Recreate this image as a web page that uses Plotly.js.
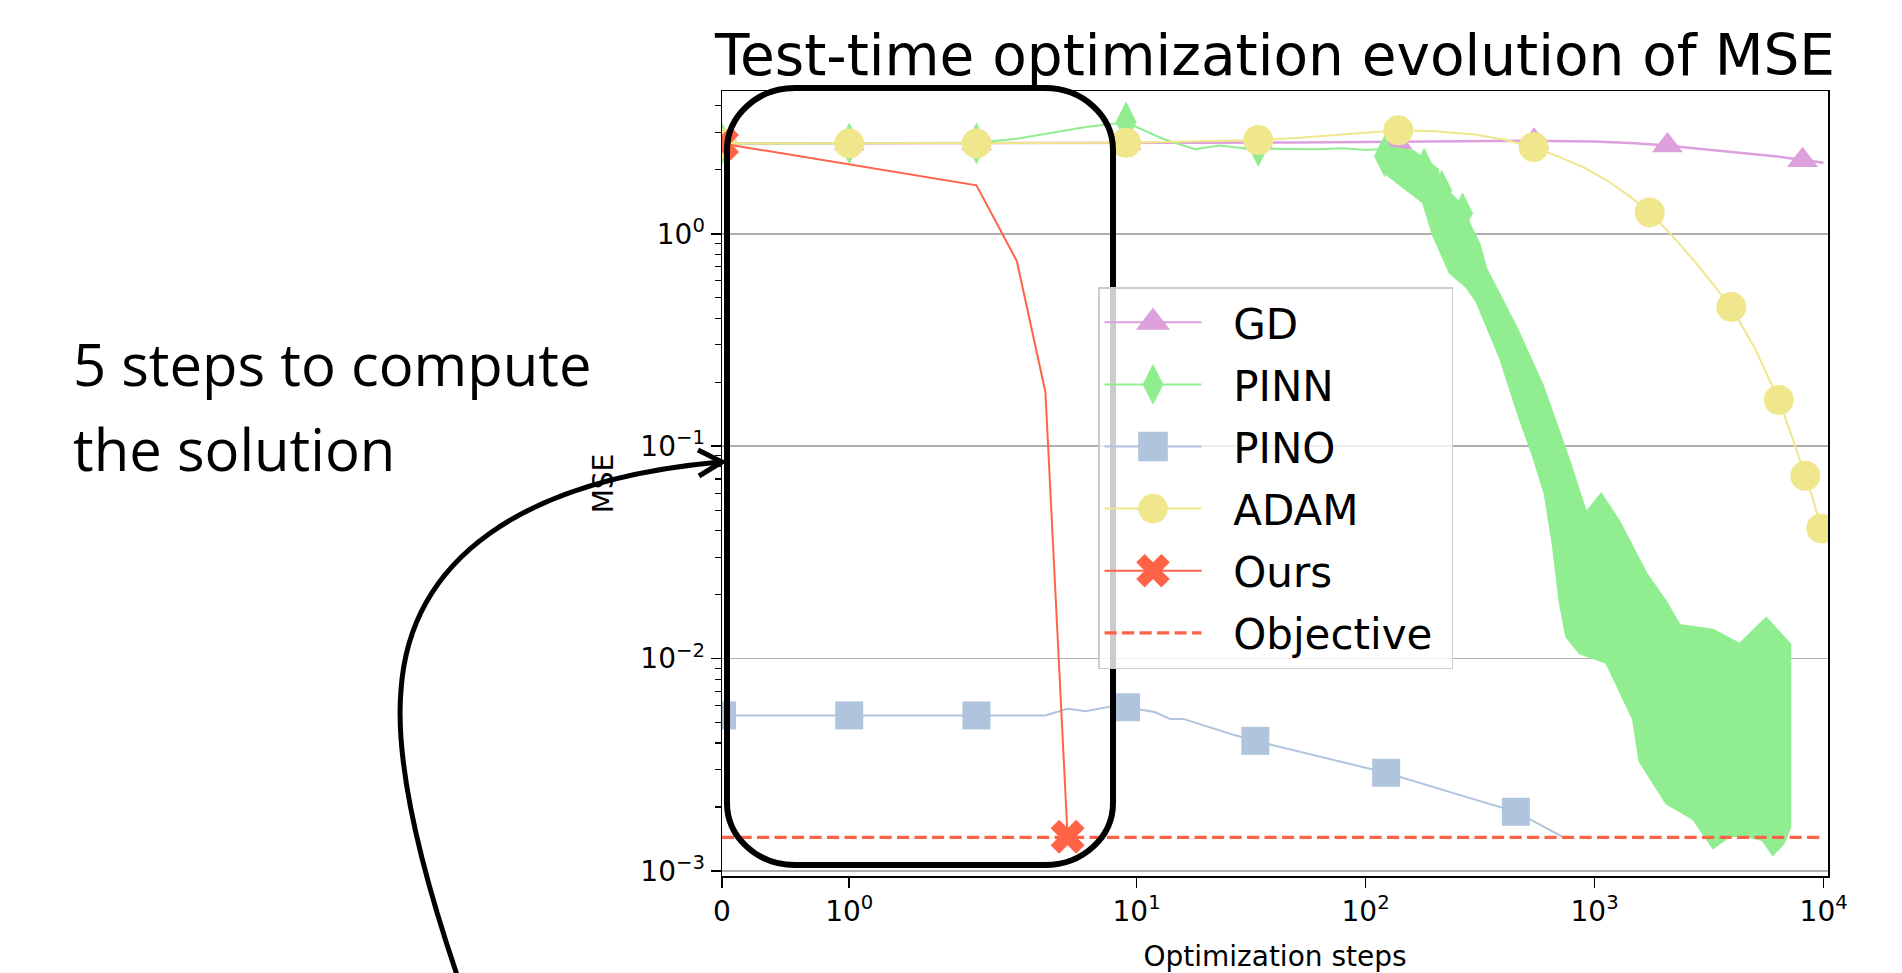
<!DOCTYPE html>
<html>
<head>
<meta charset="utf-8">
<script src="https://cdn.plot.ly/plotly-3.0.1.min.js"></script>
<style>
html,body{margin:0;padding:0;background:#ffffff;}
#chart{width:1902px;height:973px;}
</style>
</head>
<body>
<div id="chart"></div>
<script>
// ---------------- data (optimization step, MSE) ----------------
const gdSteps = [0,1,2,5,10,20,50,100,200,500,1000,1500,2000,3000,4000,5000,6500,8000,10000];
const gdMSE   = [2.66,2.66,2.66,2.66,2.67,2.68,2.69,2.70,2.72,2.74,2.72,2.67,2.61,2.50,2.44,2.38,2.30,2.23,2.16];
const gdMarkSteps = [0,1,2,9,34,137,544,2080,8090];
const gdMarkMSE   = [2.66,2.66,2.66,2.67,2.69,2.70,2.74,2.60,2.22];

const pinnSteps = [0,1,2,3,4,6,9,13,18,23,30,45,60,80,100,115];
const pinnMSE   = [2.66,2.66,2.68,2.80,2.95,3.18,3.35,2.80,2.50,2.60,2.52,2.52,2.50,2.53,2.48,2.50];
const pinnMarkSteps = [0,1,2,9,34,121,180,215,265];
const pinnMarkMSE   = [2.66,2.66,2.66,3.35,2.59,2.32,2.03,1.60,1.25];
// outline of the densely oscillating part of the PINN curve
const pinnBandSteps = [115,161,207,211,257,315,336,455,595,777,919,1069,1285,1682,2055,2350,3288,4295,5616,7150,
                       7150,6700,6000,5400,4500,3900,3288,2700,2055,1571,1470,1124,861,752,703,657,605,538,470,385,304,275,233,197,178,123,115];
const pinnBandMSE   = [2.59,2.46,2.01,1.72,1.405,0.889,0.689,0.3645,0.193,0.0854,0.0488,0.0598,0.0441,0.0252,0.01853,0.01439,0.01366,0.01172,0.01552,0.0117,
                       0.0016,0.00135,0.00119,0.0014,0.00146,0.00146,0.00128,0.00175,0.00208,0.00328,0.00519,0.00956,0.01059,0.01265,0.01855,0.0342,0.0598,0.0899,0.135,0.262,0.4825,0.562,0.655,0.984,1.405,1.908,2.22];

const pinoSteps = [0,1,2,4,5,6,8,9,12,14,16,26,33,60,123,250,453,750];
const pinoMSE   = [0.0054,0.0054,0.0054,0.0054,0.0058,0.00565,0.0060,0.0059,0.0056,0.0052,0.0052,0.0044,0.0041,0.0035,0.0029,0.0023,0.0019,0.00142];
const pinoMarkSteps = [0,1,2,9,33,123,453];
const pinoMarkMSE   = [0.0054,0.0054,0.0054,0.0059,0.0041,0.0029,0.0019];

const adamSteps = [0,1,2,5,9,15,25,34,50,75,100,139,200,300,400,542,700,900,1125,1400,1740,2200,2800,3950,5000,6370,7400,8320,9000,9770,10000];
const adamMSE   = [2.66,2.66,2.66,2.66,2.68,2.71,2.74,2.76,2.82,2.92,3.00,3.07,3.04,2.93,2.78,2.56,2.30,2.05,1.79,1.52,1.26,0.97,0.72,0.452,0.29,0.165,0.105,0.0725,0.056,0.041,0.038];
const adamMarkSteps = [0,1,2,9,34,139,542,1740,3950,6370,8320,9770];
const adamMarkMSE   = [2.66,2.66,2.66,2.68,2.76,3.07,2.56,1.26,0.452,0.165,0.0725,0.041];

const oursSteps = [0,1,2,3,4,5];
const oursMSE   = [2.66,2.12,1.69,0.745,0.18,0.00145];
const oursMarkSteps = [0,5];
const oursMarkMSE   = [2.66,0.00145];

const objSteps = [0,10000];
const objMSE   = [0.00144,0.00144];

const seriesNames = ['GD','PINN','PINO','ADAM','Ours','Objective'];
const xTickSteps = [0,1,10,100,1000,10000];
const xTickText  = ['0','10<sup>0</sup>','10<sup>1</sup>','10<sup>2</sup>','10<sup>3</sup>','10<sup>4</sup>'];
const yTickVals  = [0.001,0.01,0.1,1];
const yTickText  = ['10<sup>\u22123</sup>','10<sup>\u22122</sup>','10<sup>\u22121</sup>','10<sup>0</sup>'];

// ---------------- symmetric-log x scale (linthresh 2, linscale 1) ----------------
const LINTHRESH = 2, LINSCALE = 1;
const ADJ = LINSCALE / (1 - 1/10);
function symlog(x){ return x <= LINTHRESH ? x * ADJ / LINTHRESH : ADJ + Math.log10(x / LINTHRESH); }
const sx = a => a.map(symlog);

const C = {GD:'#DDA0DD', PINN:'#90EE90', PINO:'#B0C4DE', ADAM:'#F0E68C', OURS:'#FF6347'};
const FONT = 'DejaVu Sans, Verdana, sans-serif';

const data = [];
function lineTrace(xs, ys, color, w){ return {x:sx(xs), y:ys, mode:'lines', line:{color:color, width:w}, showlegend:false, hoverinfo:'skip'}; }
function markTrace(xs, ys, color, sym, size){ return {x:sx(xs), y:ys, mode:'markers', marker:{symbol:sym, size:size, color:color, line:{width:0}}, showlegend:false, hoverinfo:'skip'}; }

data.push(lineTrace(gdSteps, gdMSE, C.GD, 2.5));
data.push(markTrace(gdMarkSteps, gdMarkMSE, C.GD, 'triangle-up', 27));
data.push(lineTrace(pinnSteps, pinnMSE, C.PINN, 2));
data.push({x:sx(pinnBandSteps), y:pinnBandMSE, mode:'lines', fill:'toself', fillcolor:C.PINN, line:{color:C.PINN, width:2}, showlegend:false, hoverinfo:'skip'});
data.push(markTrace(pinnMarkSteps, pinnMarkMSE, C.PINN, 'diamond-tall', 30));
data.push(lineTrace(pinoSteps, pinoMSE, C.PINO, 2));
data.push(markTrace(pinoMarkSteps, pinoMarkMSE, C.PINO, 'square', 28));
data.push(lineTrace(adamSteps, adamMSE, C.ADAM, 2));
data.push(markTrace(adamMarkSteps, adamMarkMSE, C.ADAM, 'circle', 30));
data.push(lineTrace(oursSteps, oursMSE, C.OURS, 2));
data.push(markTrace(oursMarkSteps, oursMarkMSE, C.OURS, 'x', 30));
data.push({x:sx(objSteps), y:objMSE, mode:'lines', line:{color:C.OURS, width:3.3, dash:'12.2px,5.3px'}, showlegend:false, hoverinfo:'skip'});

// legend entries
const legendStyle = [
  {c:C.GD, s:'triangle-up'}, {c:C.PINN, s:'diamond-tall'}, {c:C.PINO, s:'square'},
  {c:C.ADAM, s:'circle'}, {c:C.OURS, s:'x'}, {c:C.OURS, s:null}
];
const NB = '\u00a0';
seriesNames.forEach((n,i)=>{
  const st = legendStyle[i];
  const t = {x:[null], y:[null], name:NB+NB+n+NB, legendgroup:n, hoverinfo:'skip',
             mode: st.s ? 'lines+markers' : 'lines',
             line:{color:st.c, width: st.s ? 2 : 3.3, dash: st.s ? 'solid' : '12.2px,5.3px'}};
  if (st.s) t.marker = {symbol:st.s, size:16, color:st.c, line:{width:0}};
  data.push(t);
});

// minor log ticks
const minorVals = [];
for (let e=-4; e<=0; e++) for (let d=2; d<=9; d++) minorVals.push(d*Math.pow(10,e));

// ---------------- overlay drawing helpers (pixel -> paper) ----------------
const ML=722, MR=74, MT=91, MB=97, W=1902, H=973;
const PW = W-ML-MR, PH = H-MT-MB;
const px = p => ((p-ML)/PW).toFixed(5);
const py = p => ((H-MB-p)/PH).toFixed(5);
function P(x,y){ return px(x)+','+py(y); }

// rounded rectangle
const L=727, R=1113, T=88, B=865, rx=68, ry=62, k=0.5523;
const boxPath = 'M'+P(L+rx,T)+' L'+P(R-rx,T)+
  ' C'+P(R-rx+k*rx,T)+' '+P(R,T+ry-k*ry)+' '+P(R,T+ry)+
  ' L'+P(R,B-ry)+
  ' C'+P(R,B-ry+k*ry)+' '+P(R-rx+k*rx,B)+' '+P(R-rx,B)+
  ' L'+P(L+rx,B)+
  ' C'+P(L+rx-k*rx,B)+' '+P(L,B-ry+k*ry)+' '+P(L,B-ry)+
  ' L'+P(L,T+ry)+
  ' C'+P(L,T+ry-k*ry)+' '+P(L+rx-k*rx,T)+' '+P(L+rx,T)+' Z';
const arrowPath = 'M'+P(457,975)+' C'+P(418,860)+' '+P(395,760)+' '+P(401,690)+
                  ' C'+P(410,560)+' '+P(520,480)+' '+P(720,462);
const headPath = 'M'+P(698,450)+' L'+P(722,462)+' L'+P(699,476);

const layout = {
  width:W, height:H,
  margin:{l:ML, r:MR, t:MT, b:MB, pad:0},
  paper_bgcolor:'#ffffff', plot_bgcolor:'#ffffff',
  font:{family:FONT, color:'#000000', size:28},
  showlegend:true,
  title:{text:'Test-time optimization evolution of MSE', font:{family:FONT, size:56.5, color:'#000'},
         x:0.5, xref:'paper', xanchor:'center', y:1-55/973, yref:'container', yanchor:'middle'},
  xaxis:{type:'linear', range:[0, symlog(10450)], tickmode:'array', tickvals:sx(xTickSteps), ticktext:xTickText,
         ticks:'outside', ticklen:10, tickwidth:1.5, tickcolor:'#000', showgrid:false, zeroline:false,
         showline:true, mirror:true, linecolor:'#000', linewidth:1.5,
         tickfont:{family:FONT, size:28, color:'#000'},
         title:{text:'Optimization steps', font:{family:FONT, size:28, color:'#000'}, standoff:20}},
  yaxis:{type:'log', range:[Math.log10(9.47e-4), Math.log10(4.70)], tickmode:'array', tickvals:yTickVals, ticktext:yTickText,
         ticks:'outside', ticklen:10, tickwidth:1.5, tickcolor:'#000',
         showgrid:true, gridcolor:'#b0b0b0', gridwidth:1.6, zeroline:false,
         showline:true, mirror:true, linecolor:'#000', linewidth:1.5,
         tickfont:{family:FONT, size:28, color:'#000'},
         minor:{tickmode:'array', tickvals:minorVals, ticks:'outside', ticklen:6, tickwidth:1.2, tickcolor:'#000', showgrid:false},
         title:{text:'MSE', font:{family:FONT, size:28, color:'#000'}, standoff:18}},
  legend:{x:(1098-ML)/PW, y:(H-MB-287)/PH, xanchor:'left', yanchor:'top',
          bgcolor:'rgba(255,255,255,0.8)', bordercolor:'#cccccc', borderwidth:1.5,
          font:{family:FONT, size:42, color:'#000'}, itemwidth:97,
          traceorder:'grouped', tracegroupgap:4.5},
  shapes:[
    {type:'path', xref:'paper', yref:'paper', path:boxPath, line:{color:'#000', width:6}, layer:'above'},
    {type:'path', xref:'paper', yref:'paper', path:arrowPath, line:{color:'#000', width:5}, layer:'above'},
    {type:'path', xref:'paper', yref:'paper', path:headPath, line:{color:'#000', width:5}, layer:'above'}
  ],
  annotations:[
    {text:'5 steps to compute', xref:'paper', yref:'paper', x:px(71), y:py(364), xanchor:'left', yanchor:'middle', showarrow:false,
     font:{family:'Open Sans, sans-serif', size:58, color:'#000'}},
    {text:'the solution', xref:'paper', yref:'paper', x:px(71), y:py(448), xanchor:'left', yanchor:'middle', showarrow:false,
     font:{family:'Open Sans, sans-serif', size:58, color:'#000'}}
  ]
};

const gd = document.getElementById('chart');
Plotly.newPlot(gd, data, layout, {displayModeBar:false, staticPlot:true}).then(function(){
  // enlarge legend marker glyphs to match the chart's marker size
  gd.querySelectorAll('.legend path.scatterpts').forEach(function(el){
    const tr = el.getAttribute('transform') || '';
    el.setAttribute('transform', tr + ' scale(1.85)');
  });
});
</script>
</body>
</html>
